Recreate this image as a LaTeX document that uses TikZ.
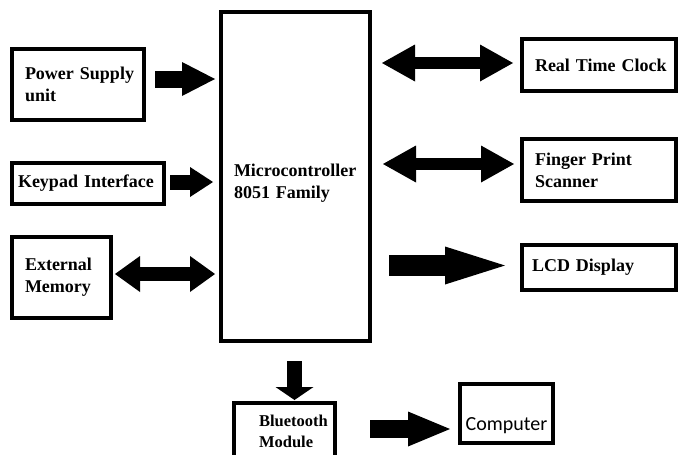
\documentclass[tikz,border=0pt]{standalone}
\usepackage{fontspec}
\setmainfont{Liberation Serif}
\newfontfamily\pcfont{Carlito}
\usetikzlibrary{arrows.meta, positioning}
\hyphenpenalty=10000
\tikzset{
  fat/.style n args={3}{line width=#1, -{Triangle[length=#2, width=#3, line width=0pt]}},
  dfat/.style n args={3}{line width=#1, {Triangle[length=#2, width=#3, line width=0pt]}-{Triangle[length=#2, width=#3, line width=0pt]}}
}

\begin{document}
\begin{tikzpicture}[x=1pt, y=-1pt,
            blk/.style={draw, line width=4pt, anchor=north west, align=left, inner ysep=0pt, font=\fontsize{18}{22}\selectfont\bfseries}]
            \useasboundingbox (0,0) rectangle (678,455);
            \clip (0,0) rectangle (678,455);

            % Input side
            \node[blk, inner xsep=13pt, text width=106pt, minimum height=71pt] (pwr) at (10,47) {Power~Supply\\unit};
            \node[blk, inner xsep=6pt, text width=140pt, minimum height=41pt] (key) at (10,161) {Keypad~Interface};
            \node[blk, inner xsep=13pt, text width=73pt, minimum height=81pt] (mem) at (10,235) {External\\Memory};

            % Controller
            \node[blk, inner xsep=13pt, text width=123pt, minimum height=329pt, text depth=12pt] (mcu) at (219,10) {Microcontroller\\8051~Family};

            % Output side
            \node[blk, inner xsep=13pt, text width=128pt, minimum height=52pt] (rtc) at (520,37) {Real~Time~Clock};
            \node[blk, inner xsep=13pt, text width=128pt, minimum height=62pt] (fps) at (520,137) {Finger~Print\\Scanner};
            \node[blk, inner xsep=10pt, text width=134pt, minimum height=45pt] (lcd) at (520,243) {LCD~Display};

            % Bottom row
            \node[blk, inner xsep=25pt, text width=51pt, minimum height=56pt, font=\fontsize{16.5}{21}\selectfont\bfseries] (bt) at (232,401) {Bluetooth\\Module};
            \node[blk, align=center, font=\fontsize{20}{24}\pcfont, minimum width=93pt, minimum height=59pt, inner xsep=0pt, text height=34pt, text depth=0pt] (pc) at (458,382) {Computer};

            % Arrows
            \draw[fat={17pt}{33pt}{34pt}, shorten <=9pt, shorten >=4pt] ([yshift=5.5pt]pwr.east) -- ([yshift=5.5pt]pwr.east -| mcu.west);
            \draw[fat={15pt}{23pt}{30pt}, shorten <=4pt, shorten >=6pt] ([yshift=1.5pt]key.east) -- ([yshift=1.5pt]key.east -| mcu.west);
            \draw[dfat={14pt}{25pt}{36pt}, shorten <=2pt, shorten >=4pt] ([yshift=3.5pt]mem.east) -- ([yshift=3.5pt]mem.east -| mcu.west);
            \draw[dfat={12pt}{33pt}{37pt}, shorten <=10pt, shorten >=7pt] ([yshift=2pt]rtc.west -| mcu.east) -- ([yshift=2pt]rtc.west);
            \draw[dfat={12pt}{33pt}{37pt}, shorten <=11pt, shorten >=6pt] ([yshift=6pt]fps.west -| mcu.east) -- ([yshift=6pt]fps.west);
            \draw[fat={21pt}{60pt}{38pt}, shorten <=17pt, shorten >=15pt] ([yshift=2pt]lcd.west -| mcu.east) -- ([yshift=2pt]lcd.west);
            \draw[fat={15pt}{13pt}{38pt}, shorten <=18pt, shorten >=1pt] ([xshift=-1pt]mcu.south) -- ([xshift=-1pt]mcu.south |- bt.north);
            \draw[fat={18pt}{42pt}{35pt}, shorten <=33pt, shorten >=8pt] ([yshift=2pt]bt.east) -- ([yshift=2pt]bt.east -| pc.west);
\end{tikzpicture}
\end{document}
